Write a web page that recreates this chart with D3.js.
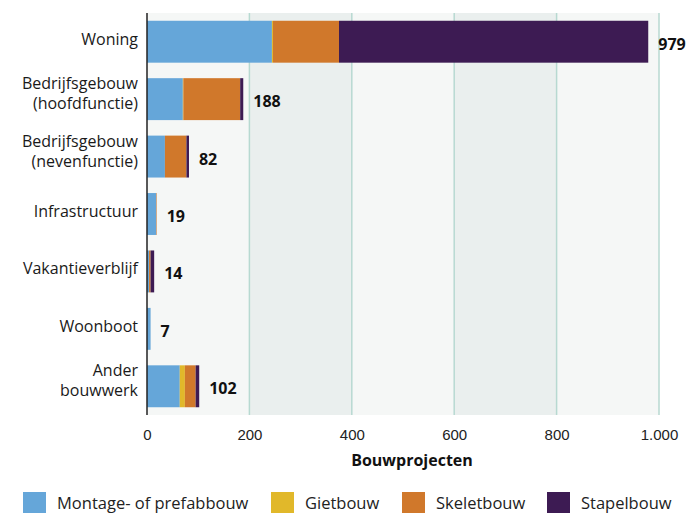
<!DOCTYPE html>
<meta charset="utf-8">
<style>
body { margin: 0; background: #fff; }
svg { font-family: "Open Sans", "Noto Sans", sans-serif; }
.cat { font-size: 16px; fill: #1a1a1a; }
.total { font-size: 16px; font-weight: bold; fill: #111; }
.tick text { font-size: 15px; fill: #222; }
.legend text { font-size: 16.5px; fill: #222; }
</style>
<body>
<script src="https://d3js.org/d3.v7.min.js"></script>
<svg width="691" height="513"></svg>
<script>

var categories = ["Woning", "Bedrijfsgebouw\n(hoofdfunctie)", "Bedrijfsgebouw\n(nevenfunctie)",
                  "Infrastructuur", "Vakantieverblijf", "Woonboot", "Ander\nbouwwerk"];
var seriesNames = ["Montage- of prefabbouw", "Gietbouw", "Skeletbouw", "Stapelbouw"];
var prefab = [244, 70, 35, 18, 4, 7, 64];
var giet   = [2, 1, 0, 0, 0, 0, 10];
var skelet = [129, 111, 42, 1, 3, 0, 21];
var stapel = [604, 6, 5, 0, 7, 0, 7];
var xTicks = [0, 200, 400, 600, 800, 1000];

var colors = ["#65a6d9", "#e1b82a", "#d0782b", "#3d1b53"];

var nl = d3.formatLocale({decimal: ",", thousands: ".", grouping: [3], currency: ["€", ""]});
var fmt = nl.format(",d");

var svg = d3.select("svg");

var x = d3.scaleLinear().domain([0, 1000]).range([147, 659]);
var y = d3.scaleBand().domain(categories).range([13, 415])
    .paddingInner(0.27).paddingOuter(0.135);

var rows = categories.map(function(c, i) {
  return {cat: c, "Montage- of prefabbouw": prefab[i], "Gietbouw": giet[i],
          "Skeletbouw": skelet[i], "Stapelbouw": stapel[i]};
});
var stack = d3.stack().keys(seriesNames)(rows);

// background bands
svg.append("g").selectAll("rect")
  .data(xTicks.slice(0, -1))
  .enter().append("rect")
    .attr("x", function(d) { return x(d); })
    .attr("y", 13)
    .attr("width", function(d) { return x(d + 200) - x(d); })
    .attr("height", 402)
    .attr("fill", function(d, i) { return i % 2 ? "#eaefee" : "#f5f7f6"; });

// grid lines
svg.append("g").selectAll("line")
  .data(xTicks.slice(1))
  .enter().append("line")
    .attr("x1", function(d) { return x(d); })
    .attr("x2", function(d) { return x(d); })
    .attr("y1", 13).attr("y2", 415)
    .attr("stroke", "#b7d9d1")
    .attr("stroke-width", 1.5);

// bars
svg.append("g").selectAll("g")
  .data(stack)
  .enter().append("g")
    .attr("fill", function(d, i) { return colors[i]; })
  .selectAll("rect")
  .data(function(d) { return d; })
  .enter().append("rect")
    .attr("x", function(d) { return x(d[0]); })
    .attr("y", function(d) { return y(d.data.cat); })
    .attr("width", function(d) { return x(d[1]) - x(d[0]); })
    .attr("height", y.bandwidth());

// totals
svg.append("g").selectAll("text")
  .data(rows)
  .enter().append("text")
    .attr("class", "total")
    .attr("x", function(d, i) { return x(prefab[i] + giet[i] + skelet[i] + stapel[i]) + 10; })
    .attr("y", function(d) { return y(d.cat) + y.bandwidth() / 2; })
    .attr("dy", "0.5em")
    .text(function(d, i) { return fmt(prefab[i] + giet[i] + skelet[i] + stapel[i]); });

// category labels
var cl = svg.append("g").selectAll("text")
  .data(categories)
  .enter().append("text")
    .attr("class", "cat")
    .attr("text-anchor", "end")
    .attr("x", 138)
    .attr("y", function(d) {
      var n = d.split("\n").length;
      return y(d) + y.bandwidth() / 2 + (n > 1 ? -(n - 1) * 10 : 3);
    })
    .attr("dy", "0.36em");
cl.selectAll("tspan")
  .data(function(d) { return d.split("\n"); })
  .enter().append("tspan")
    .attr("x", 138)
    .attr("dy", function(d, i) { return i ? 20 : 0; })
    .text(function(d) { return d; });

// y axis line
svg.append("line")
    .attr("x1", x(0)).attr("x2", x(0))
    .attr("y1", 13).attr("y2", 415)
    .attr("stroke", "#222")
    .attr("stroke-width", 1.5);

// x axis
svg.append("g")
    .attr("transform", "translate(0,415)")
    .call(d3.axisBottom(x).tickValues(xTicks).tickSize(0).tickPadding(14).tickFormat(fmt))
  .call(function(g) { g.select(".domain").remove(); })
  .selectAll("text").attr("font-family", null);

svg.append("text")
    .attr("x", 412)
    .attr("y", 466)
    .attr("text-anchor", "middle")
    .attr("font-size", 16)
    .attr("font-weight", "bold")
    .attr("fill", "#111")
    .text("Bouwprojecten");

// legend
var legendX = [23, 271, 402, 547];
var lg = svg.append("g").attr("class", "legend").selectAll("g")
  .data(seriesNames)
  .enter().append("g")
    .attr("transform", function(d, i) { return "translate(" + legendX[i] + ",492)"; });
lg.append("rect")
    .attr("width", 23).attr("height", 21)
    .attr("fill", function(d, i) { return colors[i]; });
lg.append("text")
    .attr("x", 34)
    .attr("y", 11)
    .attr("dy", "0.36em")
    .text(function(d) { return d; });

</script>
</body>
